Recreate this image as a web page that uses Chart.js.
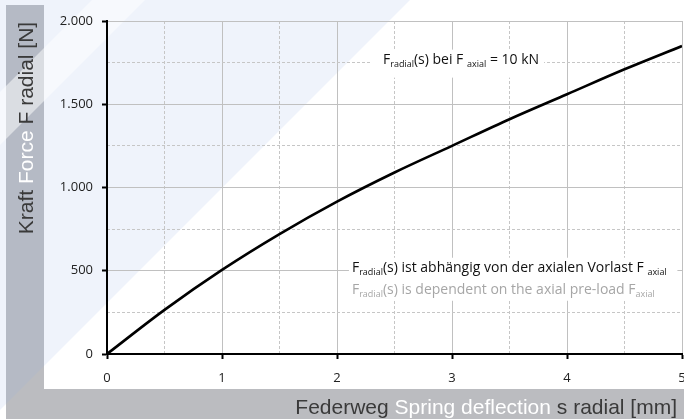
<!DOCTYPE html>
<html>
<head>
<meta charset="utf-8">
<script src="https://cdn.jsdelivr.net/npm/chart.js@4"></script>
<style>
  html, body { margin: 0; padding: 0; background: #fff; }
  #wrap { width: 684px; height: 419px; }
</style>
</head>
<body>
<div id="wrap"><canvas id="forceChart" width="684" height="419"></canvas></div>
<script>
// Federweg s radial [mm] / Kraft F radial [N]
const deflection = [0, 0.5, 1, 1.5, 2, 2.5, 3, 3.5, 4, 4.5, 5];
const radialForce = [0, 265, 505, 720, 915, 1090, 1250, 1410, 1560, 1710, 1850];

const xTicks = [0, 1, 2, 3, 4, 5];
const yTicks = [0, 500, 1000, 1500, 2000];

const noteTop = [
    { t: 'F' }, { t: 'radial', sub: true }, { t: '(s) bei F ' }, { t: 'axial', sub: true }, { t: ' = 10 kN' }
];
const noteDe = [
    { t: 'F' }, { t: 'radial', sub: true }, { t: '(s) ist abhängig von der axialen Vorlast F ' }, { t: 'axial', sub: true }
];
const noteEn = [
    { t: 'F' }, { t: 'radial', sub: true }, { t: '(s) is dependent on the axial pre-load F' }, { t: 'axial', sub: true }
];
const yTitle = [
    { t: 'Kraft ', c: '#3a3a3a' }, { t: 'Force ', c: '#ffffff' }, { t: 'F radial [N]', c: '#3a3a3a' }
];
const xTitle = [
    { t: 'Federweg ', c: '#3a3a3a' }, { t: 'Spring deflection ', c: '#ffffff' }, { t: 's radial [mm]', c: '#3a3a3a' }
];

const textFont = '"Open Sans", sans-serif';
const titleFont = '"Liberation Sans", Arial, sans-serif';

function richWidth(ctx, parts, size) {
    let w = 0;
    parts.forEach(p => {
        ctx.font = (p.sub ? 9 : size) + 'px ' + textFont;
        w += ctx.measureText(p.t).width;
    });
    return w;
}

function drawRich(ctx, x, y, parts, color, size) {
    ctx.fillStyle = color;
    ctx.textBaseline = 'alphabetic';
    ctx.textAlign = 'left';
    parts.forEach(p => {
        ctx.font = (p.sub ? 9 : size) + 'px ' + textFont;
        ctx.fillText(p.t, x, p.sub ? y + 3 : y);
        x += ctx.measureText(p.t).width;
    });
}

function drawTitle(ctx, parts, size) {
    ctx.font = size + 'px ' + titleFont;
    ctx.textBaseline = 'alphabetic';
    ctx.textAlign = 'left';
    let w = 0;
    parts.forEach(p => { w += ctx.measureText(p.t).width; });
    return w;
}

const backdrop = {
    id: 'backdrop',
    beforeDraw(chart) {
        const ctx = chart.ctx;
        const W = chart.width, H = chart.height;
        ctx.save();
        ctx.fillStyle = '#ffffff';
        ctx.fillRect(0, 0, W, H);
        // grey bands for the axis titles
        ctx.fillStyle = '#bbbcc0';
        ctx.fillRect(6, 5, 38, H - 5);
        ctx.fillRect(6, 389, W - 6, H - 389);
        // light blue diagonal
        ctx.fillStyle = 'rgba(148, 175, 228, 0.15)';
        ctx.beginPath();
        ctx.moveTo(0, 0); ctx.lineTo(410, 0); ctx.lineTo(0, 410); ctx.closePath();
        ctx.fill();
        // lighter stripe
        ctx.fillStyle = 'rgba(255, 255, 255, 0.5)';
        ctx.beginPath();
        ctx.moveTo(92, 0); ctx.lineTo(145, 0); ctx.lineTo(0, 145); ctx.lineTo(0, 92); ctx.closePath();
        ctx.fill();
        ctx.restore();
    },
    afterDraw(chart) {
        const ctx = chart.ctx;
        const xs = chart.scales.x, ys = chart.scales.y;
        ctx.save();

        // note at top
        let left = xs.getPixelForValue(2.4);
        let base = ys.getPixelForValue(1750) + 1;
        let w = richWidth(ctx, noteTop, 14);
        ctx.fillStyle = '#ffffff';
        ctx.fillRect(left - 13, base - 14, w + 18, 28);
        drawRich(ctx, left, base, noteTop, '#111111', 14);

        // note at bottom right
        left = xs.getPixelForValue(2.13);
        base = ys.getPixelForValue(500) + 1;
        ctx.fillStyle = '#ffffff';
        ctx.fillRect(left - 3, base - 14, xs.getPixelForValue(4.96) - left + 3, 43);
        drawRich(ctx, left, base, noteDe, '#111111', 14);
        drawRich(ctx, left, base + 22, noteEn, '#a6a6a6', 14);

        // y title (rotated)
        ctx.save();
        ctx.translate(33, 128);
        ctx.rotate(-Math.PI / 2);
        w = drawTitle(ctx, yTitle, 21);
        let pos = -w / 2;
        yTitle.forEach(p => {
            ctx.fillStyle = p.c;
            ctx.fillText(p.t, pos, 0);
            pos += ctx.measureText(p.t).width;
        });
        ctx.restore();

        // x title, right aligned
        w = drawTitle(ctx, xTitle, 21);
        pos = 677 - w;
        xTitle.forEach(p => {
            ctx.fillStyle = p.c;
            ctx.fillText(p.t, pos, 414);
            pos += ctx.measureText(p.t).width;
        });

        ctx.restore();
    }
};

const ctx = document.getElementById('forceChart');

new Chart(ctx, {
    type: 'line',
    data: {
        datasets: [{
            label: 'F radial',
            data: deflection.map((s, i) => ({ x: s, y: radialForce[i] })),
            borderColor: '#000000',
            borderWidth: 2.6,
            pointRadius: 0,
            cubicInterpolationMode: 'monotone',
            fill: false
        }]
    },
    options: {
        responsive: false,
        animation: false,
        layout: {
            autoPadding: false,
            padding: { top: 21, right: 2, left: 0, bottom: 0 }
        },
        plugins: {
            legend: { display: false },
            tooltip: { enabled: false }
        },
        scales: {
            x: {
                type: 'linear',
                min: 0,
                max: 5,
                afterBuildTicks: scale => { scale.ticks = xTicks.map(v => ({ value: v })); },
                afterFit: scale => {
                    scale.height = 65;
                    scale.paddingLeft = 0;
                    scale.paddingRight = 0;
                },
                ticks: {
                    color: '#222',
                    padding: 11,
                    maxRotation: 0,
                    font: { family: textFont, size: 13 },
                    callback: v => String(v)
                },
                grid: {
                    color: '#c0c0c0',
                    lineWidth: 1,
                    tickColor: '#000',
                    tickWidth: 2,
                    tickLength: 5
                },
                border: { color: '#000', width: 2 }
            },
            xMinor: {
                type: 'linear',
                position: 'bottom',
                min: 0,
                max: 5,
                afterFit: scale => { scale.height = 0; scale.paddingLeft = 0; scale.paddingRight = 0; },
                ticks: { display: false, stepSize: 0.5 },
                grid: {
                    drawTicks: false,
                    color: c => (c.tick && c.tick.value % 1 !== 0) ? '#c6c6c6' : 'rgba(0,0,0,0)'
                },
                border: { display: false, dash: [3, 2] }
            },
            y: {
                min: 0,
                max: 2000,
                afterBuildTicks: scale => { scale.ticks = yTicks.map(v => ({ value: v })); },
                afterFit: scale => { scale.width = 107; },
                ticks: {
                    color: '#222',
                    padding: 9,
                    font: { family: textFont, size: 13 },
                    callback: v => v.toLocaleString('de-DE')
                },
                grid: {
                    color: '#c0c0c0',
                    lineWidth: 1,
                    tickColor: '#000',
                    tickWidth: 2,
                    tickLength: 5
                },
                border: { color: '#000', width: 2 }
            },
            yMinor: {
                type: 'linear',
                position: 'left',
                min: 0,
                max: 2000,
                afterFit: scale => { scale.width = 0; },
                ticks: { display: false, stepSize: 250 },
                grid: {
                    drawTicks: false,
                    color: c => (c.tick && c.tick.value % 500 !== 0) ? '#c6c6c6' : 'rgba(0,0,0,0)'
                },
                border: { display: false, dash: [3, 2] }
            }
        }
    },
    plugins: [backdrop]
});
</script>
</body>
</html>
